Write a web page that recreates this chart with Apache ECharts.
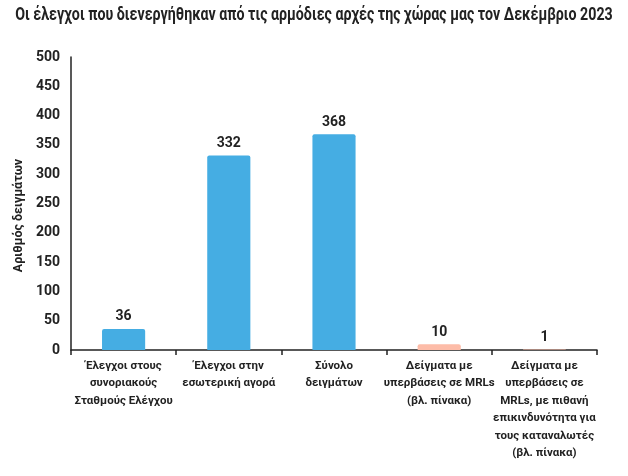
<!DOCTYPE html>
<html>
<head>
<meta charset="utf-8">
<script src="https://cdn.jsdelivr.net/npm/echarts@6/dist/echarts.min.js"></script>
<style>
  html, body { margin: 0; padding: 0; background: #fff; }
  #chart { width: 628px; height: 476px; }
</style>
</head>
<body>
<div id="chart"></div>
<script>
// κατηγορίες και τιμές
const categories = [
  'Έλεγχοι στους\nσυνοριακούς\nΣταθμούς Ελέγχου',
  'Έλεγχοι στην\nεσωτερική αγορά',
  'Σύνολο\nδειγμάτων',
  'Δείγματα με\nυπερβάσεις σε MRLs\n(βλ. πίνακα)',
  'Δείγματα με\nυπερβάσεις σε\nMRLs, με πιθανή\nεπικινδυνότητα για\nτους καταναλωτές\n(βλ. πίνακα)'
]
const values = [36, 332, 368, 10, 1]
const barColors = ['#45ade3', '#45ade3', '#45ade3', '#fdbca8', '#fdbca8']
const titleText = 'Οι έλεγχοι που διενεργήθηκαν από τις αρμόδιες αρχές της χώρας μας τον Δεκέμβριο 2023'

const FONT = 'Roboto, "DejaVu Sans Condensed", sans-serif'
const TXT = '#222'

const chart = echarts.init(document.getElementById('chart'))

const option = {
  animation: false,
  // τίτλος σε στενή γραφή (scaleX) όπως στο πρωτότυπο
  graphic: [{
    type: 'text',
    x: 314, y: 15,
    scaleX: 0.79,
    style: {
      text: titleText,
      align: 'center', verticalAlign: 'middle',
      font: 'bold 18px Roboto, sans-serif',
      fill: TXT
    }
  }],
  grid: { left: 71, right: 31, top: 57, bottom: 126, containLabel: false },
  xAxis: {
    type: 'category',
    data: categories,
    axisLine: { lineStyle: { color: '#222', width: 1.5 } },
    axisTick: { show: true, length: 5, lineStyle: { color: '#222', width: 1.5 } },
    axisLabel: {
      interval: 0,
      fontFamily: FONT, fontWeight: 'bold', fontSize: 11.5, color: TXT,
      lineHeight: 17.5, margin: 7
    }
  },
  yAxis: {
    type: 'value',
    min: 0, max: 500, interval: 50,
    name: 'Αριθμός δειγμάτων',
    nameLocation: 'middle',
    nameGap: 46,
    nameRotate: 90,
    nameTextStyle: {
      fontFamily: FONT, fontWeight: 'bold', fontSize: 12.5, color: TXT,
      padding: [0, 24, 0, 0]
    },
    axisLine: { show: true, lineStyle: { color: '#222', width: 1.5 } },
    axisTick: { show: false },
    splitLine: { show: false },
    axisLabel: { fontFamily: FONT, fontWeight: 'bold', fontSize: 14, color: TXT, margin: 11 }
  },
  series: [{
    type: 'bar',
    data: values.map((v, i) => ({ value: v, itemStyle: { color: barColors[i] } })),
    barWidth: '41%',
    itemStyle: { borderRadius: [2, 2, 0, 0] },
    label: {
      show: true, position: 'top', distance: 5,
      fontFamily: FONT, fontWeight: 'bold', fontSize: 14, color: TXT
    }
  }]
}

chart.setOption(option)
</script>
</body>
</html>
